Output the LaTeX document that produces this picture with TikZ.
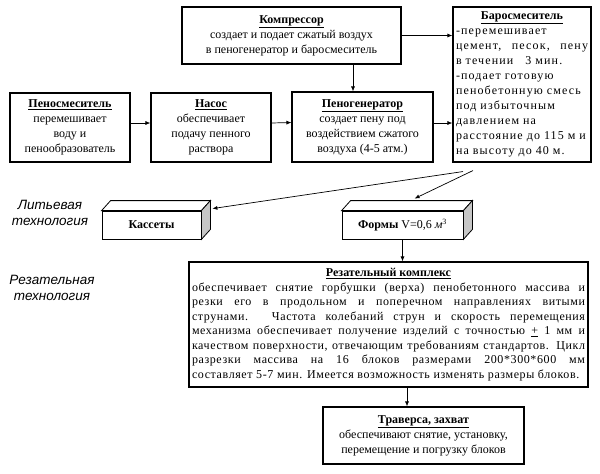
\documentclass[tikz,border=0pt]{standalone}
\usepackage{fontspec}
\setmainfont{Liberation Serif}
\newfontfamily\labelfont{Liberation Sans}
\newfontfamily\widefont[LetterSpace=9.5]{Liberation Serif}
\newfontfamily\spreadfont[LetterSpace=5]{Liberation Serif}
\usetikzlibrary{arrows.meta,positioning}

\begin{document}
\begin{tikzpicture}[x=1pt,y=-1pt,
  box/.style={draw, line width=1.1pt, inner sep=3pt, align=center, font=\fontsize{12}{15}\selectfont},
  arr/.style={line width=0.7pt, -{Latex[length=5pt,width=4pt]}},
  tech/.style={font=\labelfont\itshape\fontsize{13.5}{16}\selectfont, align=center},
  face/.style={draw, line width=0.8pt}]
  \useasboundingbox (0,0) rectangle (600,474);
  \node (komp) [box, minimum width=219pt, minimum height=57pt] at (291.5,35.5) {\underline{\textbf{Компрессор}}\\создает и подает сжатый воздух\\в пеногенератор и баросмеситель};
  \node (baro) [box, align=left, text width=132pt, minimum height=155pt] at (522,84.5) {\hfill\underline{\textbf{Баросмеситель}}\hfill\null\\\widefont -перемешивает\\цемент,\hfill песок,\hfill пену\\в течении\ \ \ 3 мин.\\-подает готовую\\пенобетонную смесь\\под избыточным\\давлением на\\расстояние до 115 м и\\на высоту до 40 м.};
  \node (peno) [box, minimum width=120pt, minimum height=69pt] at (70,127.5) {\underline{\textbf{Пеносмеситель}}\\перемешивает\\воду и\\пенообразователь};
  \node (nasos) [box, minimum width=120pt, minimum height=69pt] at (211,127.5) {\underline{\textbf{Насос}}\\обеспечивает\\подачу пенного\\раствора};
  \node (gen) [box, minimum width=141pt, minimum height=70pt] at (362.5,127) {\underline{\textbf{Пеногенератор}}\\создает пену под\\воздействием сжатого\\воздуха (4-5 атм.)};
  \node (kass) [face, minimum width=99pt, minimum height=28pt, font=\fontsize{12}{15}\selectfont\bfseries] at (151.5,225) {Кассеты};
  \node (form) [face, minimum width=121pt, minimum height=28pt, font=\fontsize{12}{15}\selectfont] at (402.5,225) {\textbf{Формы} V=0,6 \textit{м}\textsuperscript{3}};
  \foreach \n in {kass,form} {
    \draw [face, fill=white] (\n.north west) -- ++(9,-10) -- ([shift={(9,-10)}]\n.north east) -- (\n.north east) -- cycle;
    \draw [face, fill=gray!45] (\n.north east) -- ([shift={(9,-10)}]\n.north east) -- ([shift={(9,-10)}]\n.south east) -- (\n.south east) -- cycle;
  }
  \node (rez) [box, align=justify, text width=393pt, minimum height=125pt, font=\fontsize{12}{14.5}\selectfont] at (388.5,324.5) {{\centering\underline{\textbf{Резательный комплекс}}\par}\noindent\spreadfont обеспечивает снятие горбушки (верха) пенобетонного массива и\linebreak резки его в продольном и поперечном направлениях витыми\linebreak струнами. Частота колебаний струн и скорость перемещения\linebreak механизма обеспечивает получение изделий с точностью \underline{+} 1 мм и\linebreak качеством поверхности, отвечающим требованиям стандартов. Цикл\linebreak разрезки массива на 16 блоков размерами 200*300*600 мм\linebreak составляет 5-7 мин. Имеется возможность изменять размеры блоков.};
  \node (trav) [box, minimum width=201pt, minimum height=57pt] at (423.5,435.5) {\underline{\textbf{Траверса, захват}}\\обеспечивают снятие, установку,\\перемещение и погрузку блоков};
  \node (lit) [tech] at (50,213) {Литьевая\\технология};
  \node (rezt) [tech] at (52,288) {Резательная\\технология};
  % connectors
  \draw [arr] (komp.east) -- (komp.east -| baro.west);
  \draw [arr] ([xshift=-9.5pt]gen.north |- komp.south) -- ([xshift=-9.5pt]gen.north);
  \draw [arr] ([yshift=4.5pt]peno.east) -- ([yshift=4.5pt]nasos.west);
  \draw [arr] ([yshift=4.5pt]nasos.east) -- ([yshift=4.5pt]gen.west);
  \draw [arr] ([yshift=4pt]gen.east) -- ([yshift=4pt]gen.east -| baro.west);
  \coordinate (b1) at ([shift={(-59,9)}]baro.south);
  \coordinate (b2) at ([shift={(-49,8)}]baro.south);
  \draw [arr] (b1) -- ([shift={(11,-2)}]kass.north east);
  \draw [arr] (b2) -- ([shift={(12,-12)}]form.north);
  \draw [arr] (form.south) -- (form.south |- rez.north);
  \draw [arr] ([xshift=-16.5pt]trav.north |- rez.south) -- ([xshift=-16.5pt]trav.north);
\end{tikzpicture}
\end{document}
